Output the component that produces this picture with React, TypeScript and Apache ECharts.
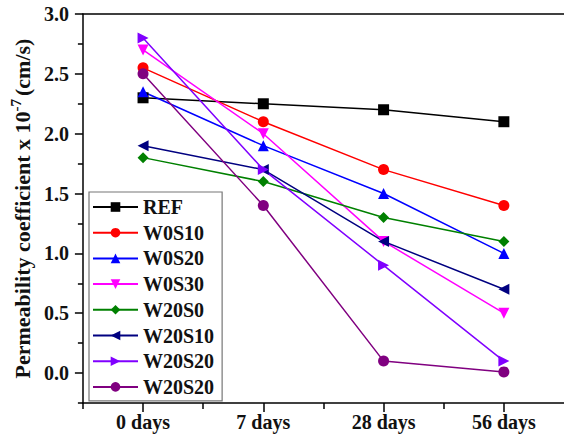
import React, { useEffect, useRef } from 'react';
import * as echarts from 'echarts';

const categories = ['0 days', '7 days', '28 days', '56 days'];
const seriesNames = ['REF', 'W0S10', 'W0S20', 'W0S30', 'W20S0', 'W20S10', 'W20S20', 'W20S20 '];
const REF = [2.3, 2.25, 2.2, 2.1];
const W0S10 = [2.55, 2.1, 1.7, 1.4];
const W0S20 = [2.35, 1.9, 1.5, 1.0];
const W0S30 = [2.7, 2.0, 1.1, 0.5];
const W20S0 = [1.8, 1.6, 1.3, 1.1];
const W20S10 = [1.9, 1.7, 1.1, 0.7];
const W20S20a = [2.8, 1.7, 0.9, 0.1];
const W20S20b = [2.5, 1.4, 0.1, 0.01];
const seriesValues = [REF, W0S10, W0S20, W0S30, W20S0, W20S10, W20S20a, W20S20b];
const colors = ['#000000', '#ff0000', '#0000ff', '#ff00ff', '#008000', '#000080', '#8000ff', '#800080'];
const symbols = [
  'rect',
  'circle',
  'triangle',
  'path://M0,0 L10,0 L5,9 Z',
  'diamond',
  'path://M9,0 L9,10 L0,5 Z',
  'path://M0,0 L0,10 L9,5 Z',
  'circle',
];
const yMajorTicks = [0, 0.5, 1.0, 1.5, 2.0, 2.5, 3.0];
const yMinorTicks = [-0.25, 0.25, 0.75, 1.25, 1.75, 2.25, 2.75];
const xMajorTicks = [0, 1, 2, 3];
const xMinorTicks = [-0.5, 0.5, 1.5, 2.5];

const FONT = "'Liberation Serif', 'Times New Roman', serif";

export default function App() {
  const ref = useRef<HTMLDivElement>(null);
  useEffect(() => {
    if (!ref.current) return;
    const chart = echarts.init(ref.current, null, { renderer: 'svg' });
    const axisLine = { show: true, onZero: false, lineStyle: { color: '#000', width: 1.5 } };
    const tickStyle = { color: '#000', width: 1.5 };
    const labelStyle = { fontFamily: FONT, fontWeight: 'bold', fontSize: 20, color: '#111' };
    chart.setOption({
      animation: false,
      backgroundColor: '#fff',
      grid: { left: 82, top: 14, right: -2, bottom: 40 },
      legend: {
        orient: 'vertical',
        left: 89,
        top: 192,
        data: seriesNames,
        itemWidth: 45,
        itemHeight: 12,
        itemGap: 5.7,
        padding: [5, 3, 4, 3],
        borderColor: '#777',
        borderWidth: 1.2,
        textStyle: labelStyle,
      },
      xAxis: [
        {
          type: 'value',
          min: -0.5,
          max: 3.5,
          position: 'bottom',
          axisLine,
          splitLine: { show: false },
          axisTick: { show: true, length: 9, customValues: xMajorTicks, lineStyle: tickStyle },
          axisLabel: {
            ...labelStyle,
            customValues: xMajorTicks,
            formatter: (v: number) => categories[Math.round(v)] ?? '',
            margin: 9,
          },
        },
        {
          type: 'value',
          min: -0.5,
          max: 3.5,
          position: 'bottom',
          axisLine: { show: false, onZero: false },
          splitLine: { show: false },
          axisTick: { show: true, length: 6, customValues: xMinorTicks, lineStyle: tickStyle },
          axisLabel: { show: false },
        },
        {
          type: 'value',
          min: -0.5,
          max: 3.5,
          position: 'top',
          axisLine,
          splitLine: { show: false },
          axisTick: { show: false },
          axisLabel: { show: false },
        },
      ],
      yAxis: [
        {
          type: 'value',
          min: -0.25,
          max: 3.0,
          position: 'left',
          axisLine,
          splitLine: { show: false },
          axisTick: { show: true, length: 8, customValues: yMajorTicks, lineStyle: tickStyle },
          axisLabel: {
            ...labelStyle,
            customValues: yMajorTicks,
            formatter: (v: number) => v.toFixed(1),
            margin: 14,
          },
          name: 'Permeability coefficient x 10{sup|-7}(cm/s)',
          nameLocation: 'middle',
          nameRotate: 90,
          nameGap: 39,
          nameTextStyle: {
            fontFamily: FONT,
            fontWeight: 'bold',
            fontSize: 22,
            color: '#111',
            rich: {
              sup: { fontFamily: FONT, fontWeight: 'bold', fontSize: 15, color: '#111', padding: [0, 3, 13, 0] },
            },
          },
        },
        {
          type: 'value',
          min: -0.25,
          max: 3.0,
          position: 'left',
          axisLine: { show: false, onZero: false },
          splitLine: { show: false },
          axisTick: { show: true, length: 5, customValues: yMinorTicks, lineStyle: tickStyle },
          axisLabel: { show: false },
        },
      ],
      series: seriesNames.map((name, i) => ({
        name,
        type: 'line',
        xAxisIndex: 0,
        yAxisIndex: 0,
        data: seriesValues[i].map((v, j) => [j, v]),
        symbol: symbols[i],
        symbolSize: 11,
        color: colors[i],
        lineStyle: { width: 1.5, color: colors[i] },
        itemStyle: { color: colors[i] },
      })),
    });
    return () => chart.dispose();
  }, []);
  return <div ref={ref} style={{ position: 'fixed', left: 0, top: 0, width: 564, height: 443 }} />;
}
